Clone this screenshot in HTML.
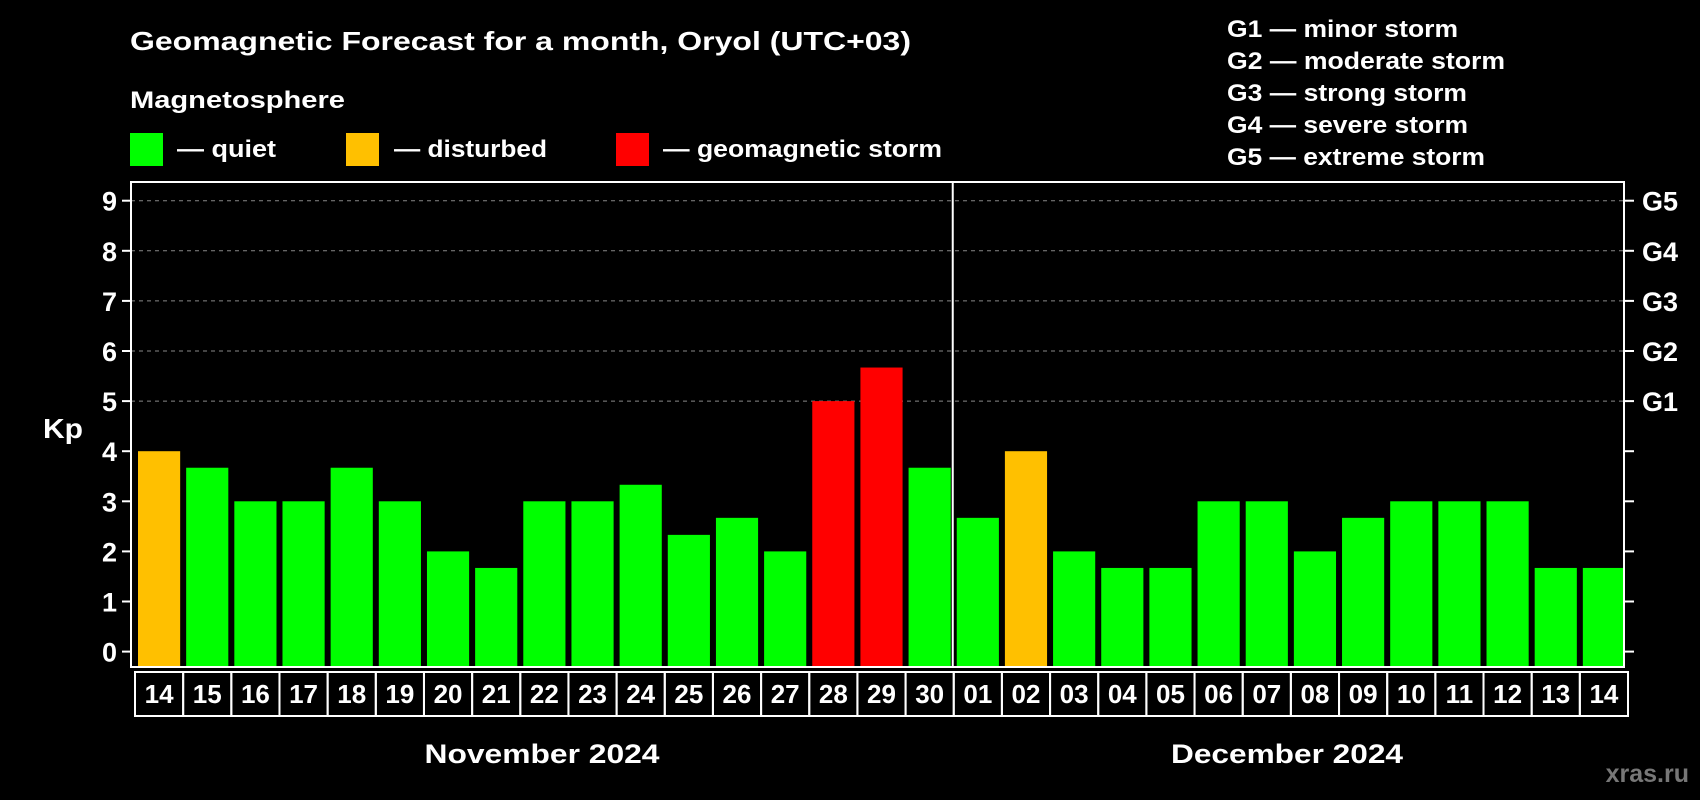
<!DOCTYPE html>
<html><head><meta charset="utf-8"><style>
html,body{margin:0;padding:0;background:#000;}
svg{display:block;font-family:"Liberation Sans",sans-serif;font-weight:bold;}
</style></head><body>
<svg width="1700" height="800" viewBox="0 0 1700 800">
<g id="hdr" fill="#fff">
<text x="130" y="50" font-size="26" textLength="781" lengthAdjust="spacingAndGlyphs">Geomagnetic Forecast for a month, Oryol (UTC+03)</text>
<text x="130" y="108" font-size="24" textLength="215" lengthAdjust="spacingAndGlyphs">Magnetosphere</text>
<rect x="130" y="133" width="33" height="33" fill="#00ff00"/>
<text x="177" y="157" font-size="24" textLength="99" lengthAdjust="spacingAndGlyphs">— quiet</text>
<rect x="346" y="133" width="33" height="33" fill="#ffc000"/>
<text x="394" y="157" font-size="24" textLength="153" lengthAdjust="spacingAndGlyphs">— disturbed</text>
<rect x="616" y="133" width="33" height="33" fill="#ff0000"/>
<text x="663" y="157" font-size="24" textLength="279" lengthAdjust="spacingAndGlyphs">— geomagnetic storm</text>
<g font-size="24" lengthAdjust="spacingAndGlyphs">
<text x="1227" y="37" textLength="231" lengthAdjust="spacingAndGlyphs">G1 — minor storm</text>
<text x="1227" y="69" textLength="278" lengthAdjust="spacingAndGlyphs">G2 — moderate storm</text>
<text x="1227" y="101" textLength="240" lengthAdjust="spacingAndGlyphs">G3 — strong storm</text>
<text x="1227" y="133" textLength="241" lengthAdjust="spacingAndGlyphs">G4 — severe storm</text>
<text x="1227" y="165" textLength="258" lengthAdjust="spacingAndGlyphs">G5 — extreme storm</text>
</g>
<text x="43" y="438" font-size="28" textLength="40" lengthAdjust="spacingAndGlyphs">Kp</text>
<text x="542" y="763" font-size="27" text-anchor="middle" textLength="235" lengthAdjust="spacingAndGlyphs">November 2024</text>
<text x="1287" y="763" font-size="27" text-anchor="middle" textLength="232" lengthAdjust="spacingAndGlyphs">December 2024</text>
<text x="1689" y="782" font-size="25" fill="#777" text-anchor="end">xras.ru</text>
</g>
<g id="plot"></g>
</svg>
<script>
const days=["14","15","16","17","18","19","20","21","22","23","24","25","26","27","28","29","30","01","02","03","04","05","06","07","08","09","10","11","12","13","14"];
const kp=[4,3.67,3,3,3.67,3,2,1.67,3,3,3.33,2.33,2.67,2,5,5.67,3.67,2.67,4,2,1.67,1.67,3,3,2,2.67,3,3,3,1.67,1.67];
const yTicks=[0,1,2,3,4,5,6,7,8,9];
const gLabels=["G1","G2","G3","G4","G5"];
const NS="http://www.w3.org/2000/svg";
const g=document.getElementById('plot');
const L=131,R=1624,T=182,B=667;
const y=v=>651.6-v*50.1;
const step=(R-L)/days.length;
const x=i=>L+7+i*step;
function mk(t,a){const e=document.createElementNS(NS,t);for(const k in a)e.setAttribute(k,a[k]);g.appendChild(e);return e;}
yTicks.forEach(v=>{
  if(v>=5){const l=mk('line',{x1:L,x2:R,y1:y(v),y2:y(v),stroke:'#888','stroke-dasharray':'4,4','stroke-width':1});
  
  }
  const t1=mk('line',{x1:L-9,x2:L,y1:y(v),y2:y(v),stroke:'#fff','stroke-width':2});
  
  
  const t2=mk('line',{x1:R,x2:R+10,y1:y(v),y2:y(v),stroke:'#fff','stroke-width':2});
  
  
  const tx=mk('text',{x:L-14,y:y(v)+10,'font-size':27,fill:'#fff','text-anchor':'end'});
  tx.textContent=v;
  
  
});
gLabels.forEach((s,i)=>{
  const tx=mk('text',{x:R+18,y:y(5+i)+10,'font-size':27,fill:'#fff'});
  tx.textContent=s;
  
  
});
kp.forEach((v,i)=>{
  const c=v>=5?'#ff0000':(v>=4?'#ffc000':'#00ff00');
  const r=mk('rect',{x:x(i),y:y(v),width:step-6,height:B-y(v),fill:c});
  
  
  const bx=mk('rect',{x:L+4+i*step,y:672,width:step,height:44,fill:'none',stroke:'#fff','stroke-width':2});
  
  
  const tx=mk('text',{x:L+4+i*step+step/2,y:703,'font-size':26,fill:'#fff','text-anchor':'middle'});
  tx.textContent=days[i];
  
  
});
const sep=mk('line',{x1:L+17*step+3,x2:L+17*step+3,y1:T,y2:B,stroke:'#fff','stroke-width':2});


const fr=mk('rect',{x:L,y:T,width:R-L,height:B-T,fill:'none',stroke:'#fff','stroke-width':2});


</script>
</body></html>
